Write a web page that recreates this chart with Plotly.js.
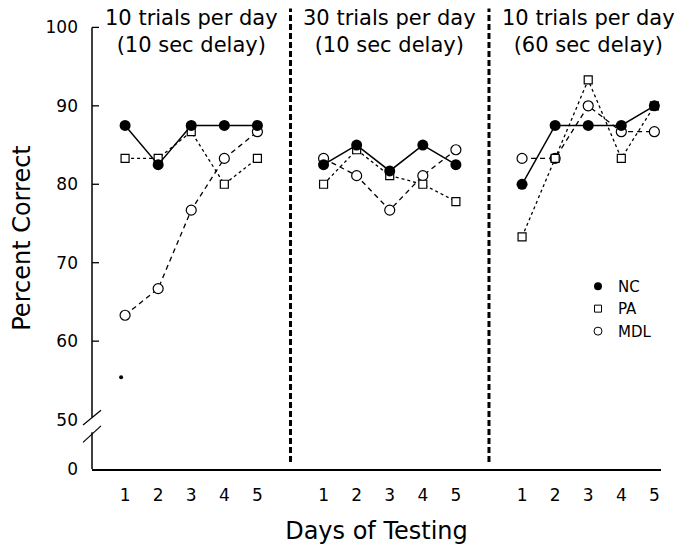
<!DOCTYPE html>
<html>
<head>
<meta charset="utf-8">
<script src="https://cdn.plot.ly/plotly-3.0.1.min.js"></script>
<style>
  html, body { margin: 0; padding: 0; background: #fff; }
  #chart { width: 696px; height: 548px; }
</style>
</head>
<body>
<div id="chart"></div>
<script>
// ---- data ----
const days = [1, 2, 3, 4, 5];
const panelTitles = [
  '10 trials per day<br>(10 sec delay)',
  '30 trials per day<br>(10 sec delay)',
  '10 trials per day<br>(60 sec delay)'
];
const ncP1 = [87.5, 82.5, 87.5, 87.5, 87.5];
const ncP2 = [82.5, 85.0, 81.7, 85.0, 82.5];
const ncP3 = [80.0, 87.5, 87.5, 87.5, 90.0];
const paP1 = [83.3, 83.3, 86.7, 80.0, 83.3];
const paP2 = [80.0, 84.4, 81.1, 80.0, 77.8];
const paP3 = [73.3, 83.3, 93.3, 83.3, 90.0];
const mdlP1 = [63.3, 66.7, 76.7, 83.3, 86.7];
const mdlP2 = [83.3, 81.1, 76.7, 81.1, 84.4];
const mdlP3 = [83.3, 83.3, 90.0, 86.7, 86.7];
const strayDayX = [0.88];      // small stray dot in the scan
const strayDayY = [55.4];
const yTickLabels = ['0', '50', '60', '70', '80', '90', '100'];
const yTickValsReal = [0, 50, 60, 70, 80, 90, 100];

// ---- layout helpers ----
const PANEL_STEP = 6;          // days 1..5, separator at 6, next panel 7..11 ...
const ZERO_POS = 43.7;         // where the broken axis puts "0"
const yRange = [ZERO_POS, 102.6];
const xRange = [0, 17.2];
const yPos = v => (v === 0 ? ZERO_POS : v);
const py = v => (v - yRange[0]) / (yRange[1] - yRange[0]);
const plotW = 569;
const pxX = p => p / plotW;    // pixels -> paper x

function buildXY(panels) {
  const xs = [], ys = [];
  panels.forEach((vals, p) => {
    if (p > 0) { xs.push(null); ys.push(null); }
    days.forEach((d, i) => { xs.push(p * PANEL_STEP + d); ys.push(vals[i]); });
  });
  return { xs, ys };
}
const nc = buildXY([ncP1, ncP2, ncP3]);
const pa = buildXY([paP1, paP2, paP3]);
const mdl = buildXY([mdlP1, mdlP2, mdlP3]);

const FONT = 'DejaVu Sans, Arial, sans-serif';

const traces = [
  { x: mdl.xs, y: mdl.ys, mode: 'lines+markers', name: 'MDL', showlegend: false,
    connectgaps: false, cliponaxis: false,
    line: { color: '#000', width: 1.3, dash: '5px,4px' },
    marker: { symbol: 'circle', size: 10, color: '#fff', line: { color: '#000', width: 1.2 } } },
  { x: pa.xs, y: pa.ys, mode: 'lines+markers', name: 'PA', showlegend: false,
    connectgaps: false, cliponaxis: false,
    line: { color: '#000', width: 1.3, dash: 'dot' },
    marker: { symbol: 'square', size: 8, color: '#fff', line: { color: '#000', width: 1.2 } } },
  { x: nc.xs, y: nc.ys, mode: 'lines+markers', name: 'NC', showlegend: false,
    connectgaps: false, cliponaxis: false,
    line: { color: '#000', width: 1.5 },
    marker: { symbol: 'circle', size: 11, color: '#000', line: { color: '#000', width: 0 } } },
  { x: strayDayX, y: strayDayY, mode: 'markers', showlegend: false, hoverinfo: 'skip',
    cliponaxis: false, marker: { size: 4, color: '#000' } },
  // legend entries (markers only)
  { x: [null], y: [null], mode: 'markers', name: 'NC',
    marker: { symbol: 'circle', size: 8, color: '#000' } },
  { x: [null], y: [null], mode: 'markers', name: 'PA',
    marker: { symbol: 'square', size: 7, color: '#fff', line: { color: '#000', width: 1 } } },
  { x: [null], y: [null], mode: 'markers', name: 'MDL',
    marker: { symbol: 'circle', size: 8, color: '#fff', line: { color: '#000', width: 1 } } }
];

// x tick positions/labels built from days
const xTickVals = [], xTickText = [];
panelTitles.forEach((t, p) => days.forEach(d => { xTickVals.push(p * PANEL_STEP + d); xTickText.push(String(d)); }));

const shapes = [];
// separators
[1, 2].forEach(k => shapes.push({
  type: 'line', xref: 'x', yref: 'y', x0: k * PANEL_STEP, x1: k * PANEL_STEP,
  y0: 44.6, y1: 102.4, line: { color: '#000', width: 3, dash: '6px,3px' }
}));
// broken y axis line
shapes.push({ type: 'line', xref: 'paper', yref: 'paper', x0: 0, x1: 0, y0: py(100), y1: py(50.3), line: { color: '#000', width: 1.5 } });
shapes.push({ type: 'line', xref: 'paper', yref: 'paper', x0: 0, x1: 0, y0: py(48.4), y1: py(ZERO_POS), line: { color: '#000', width: 1.5 } });
shapes.push({ type: 'line', xref: 'paper', yref: 'paper', x0: pxX(-9), x1: pxX(9), y0: py(49.3), y1: py(51.2), line: { color: '#000', width: 1.2 } });
shapes.push({ type: 'line', xref: 'paper', yref: 'paper', x0: pxX(-9), x1: pxX(9), y0: py(47.1), y1: py(49.2), line: { color: '#000', width: 1.2 } });
// inside ticks 60..100
yTickValsReal.filter(v => v >= 60).forEach(v => shapes.push({
  type: 'line', xref: 'paper', yref: 'paper', x0: 0, x1: pxX(7), y0: py(v), y1: py(v), line: { color: '#000', width: 1.3 }
}));

const annotations = panelTitles.map((t, p) => ({
  text: t, xref: 'x', yref: 'paper', x: p * PANEL_STEP + 3, y: 0.947,
  xanchor: 'center', yanchor: 'middle', showarrow: false, align: 'center',
  font: { family: FONT, size: 21, color: '#000' }
}));

const layout = {
  width: 696, height: 548,
  margin: { l: 92, r: 35, t: 7, b: 79 },
  paper_bgcolor: '#fff', plot_bgcolor: '#fff',
  font: { family: FONT, color: '#000', size: 17 },
  showlegend: true,
  legend: {
    x: pxX(578 - 92), y: 0.431, xanchor: 'left', yanchor: 'top',
    bgcolor: 'rgba(0,0,0,0)', borderwidth: 0,
    font: { family: FONT, size: 15, color: '#000' }
  },
  xaxis: {
    range: xRange, showgrid: false, zeroline: false,
    showline: true, linecolor: '#000', linewidth: 1.5,
    tickmode: 'array', tickvals: xTickVals, ticktext: xTickText, ticks: '',
    ticklabelstandoff: 10,
    tickfont: { family: FONT, size: 17, color: '#000' },
    title: { text: 'Days of Testing', standoff: 18, font: { family: FONT, size: 24, color: '#000' } }
  },
  yaxis: {
    range: yRange, showgrid: false, zeroline: false, showline: false,
    tickmode: 'array', tickvals: yTickValsReal.map(yPos), ticktext: yTickLabels, ticks: '',
    ticklabelstandoff: 13,
    tickfont: { family: FONT, size: 17, color: '#000' },
    title: { text: 'Percent Correct', standoff: 8, font: { family: FONT, size: 24, color: '#000' } }
  },
  shapes, annotations
};

Plotly.newPlot('chart', traces, layout, { displayModeBar: false, staticPlot: true });
</script>
</body>
</html>
